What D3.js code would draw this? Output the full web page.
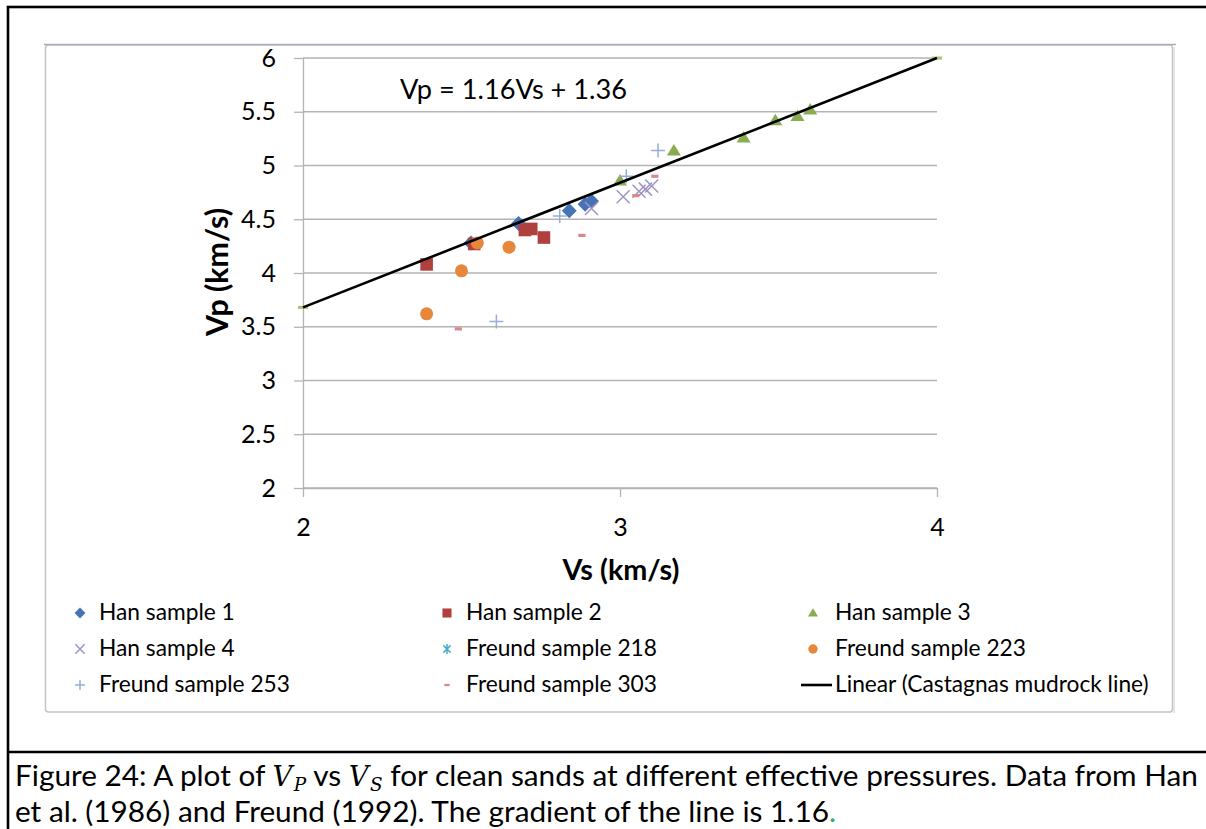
<!DOCTYPE html>
<html>
<head>
<meta charset="utf-8">
<script src="https://cdn.jsdelivr.net/npm/d3@7"></script>
<style>
  html, body { margin: 0; padding: 0; background: #fff; }
  svg { display: block; }
  text { font-family: Lato, "Open Sans", "Noto Sans", sans-serif; fill: #000; }
</style>
</head>
<body>
<svg id="chart" width="1206" height="829"></svg>
<script>
// ---------------- DATA ----------------
const han1Vs = [2.53, 2.68, 2.84, 2.89, 2.91];
const han1Vp = [4.28, 4.46, 4.58, 4.64, 4.67];

const han2Vs = [2.39, 2.54, 2.70, 2.72, 2.76];
const han2Vp = [4.08, 4.27, 4.40, 4.41, 4.33];

const han3Vs = [3.00, 3.17, 3.39, 3.49, 3.56, 3.60];
const han3Vp = [4.86, 5.14, 5.26, 5.42, 5.46, 5.52];

const han4Vs = [2.91, 3.01, 3.06, 3.08, 3.10];
const han4Vp = [4.60, 4.71, 4.76, 4.78, 4.81];

const freund218Vs = [];
const freund218Vp = [];

const freund223Vs = [2.39, 2.50, 2.55, 2.65];
const freund223Vp = [3.62, 4.02, 4.28, 4.24];

const freund253Vs = [2.61, 2.81, 3.02, 3.12];
const freund253Vp = [3.55, 4.53, 4.90, 5.14];

const freund303Vs = [2.49, 2.88, 3.05, 3.11];
const freund303Vp = [3.48, 4.35, 4.72, 4.90];

// Castagna mudrock line end points (Vp = 1.16 Vs + 1.36)
const lineVs = [2, 4];
const lineVp = [3.68, 6.00];

const seriesNames = ["Han sample 1", "Han sample 2", "Han sample 3", "Han sample 4",
  "Freund sample 218", "Freund sample 223", "Freund sample 253", "Freund sample 303"];
const lineName = "Linear (Castagnas mudrock line)";

const xTicks = [2, 3, 4];
const yTicks = [2, 2.5, 3, 3.5, 4, 4.5, 5, 5.5, 6];
const xTitle = "Vs (km/s)";
const yTitle = "Vp (km/s)";
const equationLabel = "Vp = 1.16Vs + 1.36";

// ---------------- STYLE ----------------
const FONT = 'Lato, "Open Sans", "Noto Sans", sans-serif';
const SERIF = '"DejaVu Serif", "Liberation Serif", serif';
const seriesStyle = [
  { shape: "diamond",  color: "#4673b3" },
  { shape: "square",   color: "#b0403d" },
  { shape: "triangle", color: "#8aac50" },
  { shape: "x",        color: "#a193c4" },
  { shape: "asterisk", color: "#4bacc6" },
  { shape: "circle",   color: "#e6873b" },
  { shape: "plus",     color: "#98acdc" },
  { shape: "dash",     color: "#d9898a" }
];

const seriesData = [
  [han1Vs, han1Vp], [han2Vs, han2Vp], [han3Vs, han3Vp], [han4Vs, han4Vp],
  [freund218Vs, freund218Vp], [freund223Vs, freund223Vp],
  [freund253Vs, freund253Vp], [freund303Vs, freund303Vp]
].map(([xs, ys], i) => ({ name: seriesNames[i], style: seriesStyle[i],
  points: xs.map((v, j) => ({ vs: v, vp: ys[j] })) }));

const svg = d3.select("#chart");

function fitText(sel, width) {
  const node = sel.node();
  const fs = parseFloat(sel.attr("font-size"));
  const w = node.getComputedTextLength();
  sel.attr("font-size", (fs * width / w).toFixed(2));
  return sel;
}

// ---------------- FRAMES ----------------
svg.append("rect").attr("x", 8).attr("y", 7).attr("width", 1210).attr("height", 840)
  .attr("fill", "none").attr("stroke", "#000").attr("stroke-width", 2.6);
svg.append("line").attr("x1", 8).attr("x2", 1206).attr("y1", 752).attr("y2", 752)
  .attr("stroke", "#000").attr("stroke-width", 2.6);

svg.append("rect").attr("x", 45.5).attr("y", 45).attr("width", 1127).attr("height", 667)
  .attr("rx", 3).attr("fill", "#fff").attr("stroke", "#c4c4c4").attr("stroke-width", 1.5);
svg.append("line").attr("x1", 44).attr("x2", 1176).attr("y1", 44.5).attr("y2", 44.5)
  .attr("stroke", "#a7adbb").attr("stroke-width", 1.3);
svg.append("line").attr("x1", 1174).attr("x2", 1174).attr("y1", 47).attr("y2", 713)
  .attr("stroke", "#e4e4e4").attr("stroke-width", 2);

// ---------------- SCALES ----------------
const x = d3.scaleLinear().domain([2, 4]).range([303, 937]);
const y = d3.scaleLinear().domain([2, 6]).range([488, 58]);

svg.append("g").selectAll("line").data(yTicks).join("line")
  .attr("x1", x(2)).attr("x2", x(4))
  .attr("y1", d => y(d)).attr("y2", d => y(d))
  .attr("stroke", "#b3b3b3").attr("stroke-width", 1.3);

const yAxis = svg.append("g").attr("transform", `translate(${x(2)},0)`)
  .call(d3.axisLeft(y).tickValues(yTicks).tickSize(9).tickSizeOuter(0).tickPadding(18)
    .tickFormat(d => String(d)));
const xAxis = svg.append("g").attr("transform", `translate(0,${y(2)})`)
  .call(d3.axisBottom(x).tickValues(xTicks).tickSize(9).tickSizeOuter(0).tickPadding(21)
    .tickFormat(d => String(d)));
[yAxis, xAxis].forEach(g => {
  g.select(".domain").attr("stroke", "#b3b3b3").attr("stroke-width", 1.3);
  g.selectAll(".tick line").attr("stroke", "#b3b3b3").attr("stroke-width", 1.3);
  g.selectAll(".tick text").attr("font-family", FONT).attr("font-size", 25).attr("fill", "#000");
});

fitText(svg.append("text").attr("x", 621).attr("y", 580).attr("text-anchor", "middle")
  .attr("font-weight", "bold").attr("font-size", 24).text(xTitle), 117);
fitText(svg.append("text").attr("transform", "translate(228,272) rotate(-90)")
  .attr("text-anchor", "middle").attr("font-weight", "bold").attr("font-size", 24).text(yTitle), 128);

fitText(svg.append("text").attr("x", 400).attr("y", 99).attr("font-size", 24).text(equationLabel), 227);

// ---------------- MARKERS ----------------
function drawMarker(g, shape, color, s) {
  switch (shape) {
    case "diamond":
      g.append("path").attr("d", `M0,${-7.5*s}L${7.5*s},0L0,${7.5*s}L${-7.5*s},0Z`).attr("fill", color);
      break;
    case "square":
      g.append("rect").attr("x", -6.3*s).attr("y", -6.3*s).attr("width", 12.6*s).attr("height", 12.6*s).attr("fill", color);
      break;
    case "triangle":
      g.append("path").attr("d", `M0,${-6.5*s}L${7*s},${5*s}L${-7*s},${5*s}Z`).attr("fill", color);
      break;
    case "circle":
      g.append("circle").attr("r", 6.5*s).attr("fill", color);
      break;
    case "x":
      g.append("path").attr("d", `M${-6.5*s},${-6.5*s}L${6.5*s},${6.5*s}M${-6.5*s},${6.5*s}L${6.5*s},${-6.5*s}`)
        .attr("stroke", color).attr("stroke-width", 1.5).attr("fill", "none");
      break;
    case "plus":
      g.append("path").attr("d", `M${-7*s},0L${7*s},0M0,${-7*s}L0,${7*s}`)
        .attr("stroke", color).attr("stroke-width", 1.5).attr("fill", "none");
      break;
    case "asterisk":
      g.append("path").attr("d", `M${-5*s},${-5*s}L${5*s},${5*s}M${-5*s},${5*s}L${5*s},${-5*s}M0,${-7*s}L0,${7*s}`)
        .attr("stroke", color).attr("stroke-width", 1.5).attr("fill", "none");
      break;
    case "dash":
      g.append("rect").attr("x", -3.6*s).attr("y", -1.6*s).attr("width", 7.2*s).attr("height", 3.2*s).attr("fill", color);
      break;
  }
}

const plot = svg.append("g");
seriesData.forEach(sd => {
  plot.append("g").selectAll("g").data(sd.points).join("g")
    .attr("transform", d => `translate(${x(d.vs)},${y(d.vp)})`)
    .each(function () { drawMarker(d3.select(this), sd.style.shape, sd.style.color, 1); });
});

plot.append("g").selectAll("rect").data(lineVs.map((v, i) => ({ vs: v, vp: lineVp[i] }))).join("rect")
  .attr("x", d => x(d.vs) - 5).attr("y", d => y(d.vp) - 1.5).attr("width", 10).attr("height", 3)
  .attr("fill", "#a9c47a");

plot.append("path")
  .datum(lineVs.map((v, i) => ({ vs: v, vp: lineVp[i] })))
  .attr("d", d3.line().x(d => x(d.vs)).y(d => y(d.vp)))
  .attr("stroke", "#000").attr("stroke-width", 2.6).attr("fill", "none");

// ---------------- LEGEND ----------------
const legendCols = [80, 447, 813];
const legendTextX = [99, 466, 835];
const legendRows = [613, 649, 685];
const legend = svg.append("g");
const legendItems = seriesNames.concat([lineName]);
let legendTexts = [];
legendItems.forEach((name, i) => {
  const col = i % 3, row = Math.floor(i / 3);
  const g = legend.append("g");
  if (i < seriesNames.length) {
    const mg = g.append("g").attr("transform", `translate(${legendCols[col]},${legendRows[row]})`);
    drawMarker(mg, seriesStyle[i].shape, seriesStyle[i].color, 0.72);
  } else {
    g.append("line").attr("x1", 801).attr("x2", 832).attr("y1", legendRows[row]).attr("y2", legendRows[row])
      .attr("stroke", "#000").attr("stroke-width", 2.6);
  }
  const t = g.append("text").attr("x", legendTextX[col]).attr("y", legendRows[row] + 7)
    .attr("font-size", 19).text(name);
  legendTexts.push(t);
});
{
  const ref = legendTexts[4];
  const w = ref.node().getComputedTextLength();
  const fs = 19 * 191 / w;
  legendTexts.forEach(t => t.attr("font-size", fs.toFixed(2)));
}

// ---------------- CAPTION ----------------
const cap1 = svg.append("text").attr("x", 15).attr("y", 786).attr("font-size", 24);
cap1.append("tspan").text("Figure 24: A plot of ");
cap1.append("tspan").attr("font-family", SERIF).attr("font-style", "italic").attr("font-size", "0.92em").text("V");
cap1.append("tspan").attr("font-family", SERIF).attr("font-style", "italic")
  .attr("font-size", "0.62em").attr("dx", 1.5).attr("dy", 5).text("P");
cap1.append("tspan").attr("dy", -5).text(" vs ");
cap1.append("tspan").attr("font-family", SERIF).attr("font-style", "italic").attr("font-size", "0.92em").text("V");
cap1.append("tspan").attr("font-family", SERIF).attr("font-style", "italic")
  .attr("font-size", "0.62em").attr("dx", 1.5).attr("dy", 5).text("S");
cap1.append("tspan").attr("dy", -5).text(" for clean sands at different effective pressures. Data from Han");
fitText(cap1, 1180);
const capSize = cap1.attr("font-size");
const cap2 = svg.append("text").attr("x", 15).attr("y", 822).attr("font-size", capSize);
cap2.append("tspan").text("et al. (1986) and Freund (1992). The gradient of the line is 1.16");
cap2.append("tspan").attr("fill", "#2eaa6e").text(".");
</script>
</body>
</html>
